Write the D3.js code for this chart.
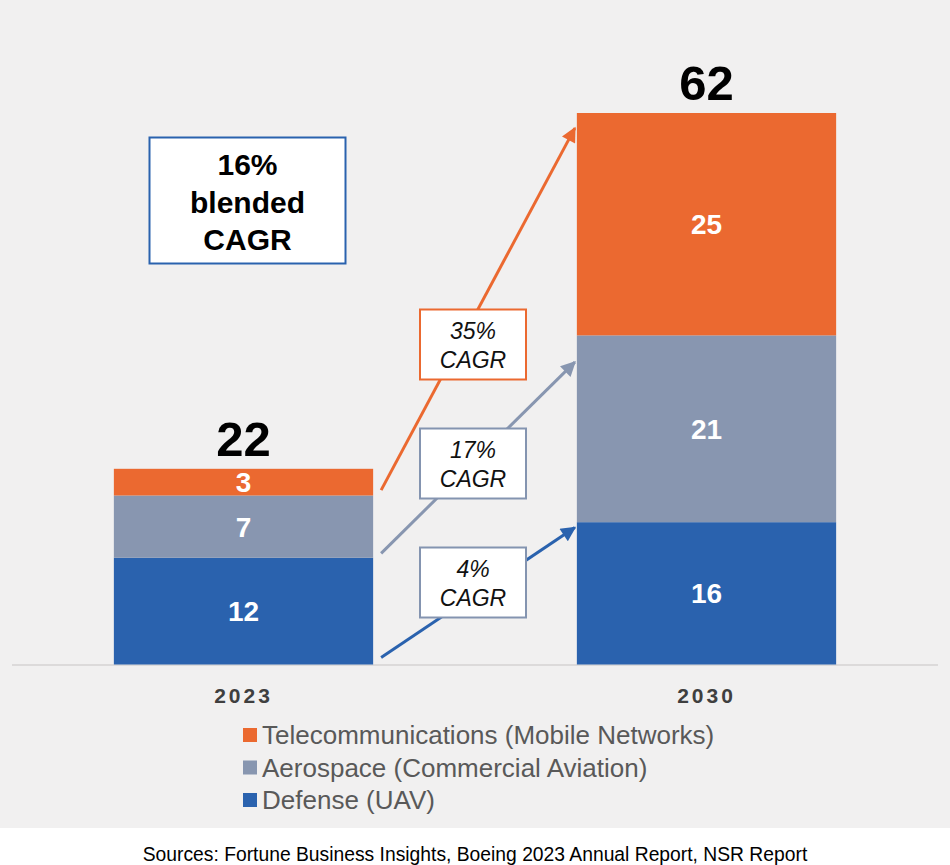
<!DOCTYPE html>
<html>
<head>
<meta charset="utf-8">
<script src="https://cdn.jsdelivr.net/npm/d3@7"></script>
<style>
  html, body { margin: 0; padding: 0; background: #ffffff; }
  svg { display: block; }
  text { font-family: "Liberation Sans", Arial, Helvetica, sans-serif; }
</style>
</head>
<body>
<div id="chart"></div>
<script>
// ---- Data ----
const years = ["2023", "2030"];
const seriesNames = ["Defense (UAV)", "Aerospace (Commercial Aviation)", "Telecommunications (Mobile Networks)"];
const defense = [12, 16];
const aerospace = [7, 21];
const telecom = [3, 25];
const totals = [22, 62];
const seriesColors = ["#2a62ae", "#8896b0", "#eb6930"];
const legendOrder = [2, 1, 0];
const cagrLabels = ["4%", "17%", "35%"];
const cagrBoxColors = ["#8494b0", "#8494b0", "#eb6930"];
// arrow anchors (data units): start value on 2023 side, end value on 2030 side
const arrowStart = [0.8, 12.5, 19.6];
const arrowEnd = [15.4, 34.0, 60.3];
const blendedText = ["16%", "blended", "CAGR"];
const sourceText = "Sources: Fortune Business Insights, Boeing 2023 Annual Report, NSR Report";

// ---- Layout ----
const W = 950, H = 865;
const svg = d3.select("#chart").append("svg").attr("width", W).attr("height", H);

svg.append("rect").attr("x", 0).attr("y", 0).attr("width", W).attr("height", 828).attr("fill", "#f1f0f0");

const x = d3.scaleBand().domain(years).range([12, 938]).paddingInner(0.44).paddingOuter(0.22);
const y = d3.scaleLinear().domain([0, 62]).range([664.5, 113]);

const values = [defense, aerospace, telecom];
const stackData = years.map((yr, i) => {
  const o = { year: yr };
  seriesNames.forEach((s, k) => o[s] = values[k][i]);
  return o;
});
const stacked = d3.stack().keys(seriesNames)(stackData);

// baseline
svg.append("line").attr("x1", 12).attr("x2", 938).attr("y1", y(0) + 0.5).attr("y2", y(0) + 0.5)
  .attr("stroke", "#d4d3d3").attr("stroke-width", 1.5);

// bars
const layers = svg.selectAll("g.layer").data(stacked).join("g").attr("class", "layer")
  .attr("fill", (d, k) => seriesColors[k]);
layers.selectAll("rect").data(d => d).join("rect")
  .attr("x", d => x(d.data.year))
  .attr("width", x.bandwidth())
  .attr("y", d => y(d[1]))
  .attr("height", d => y(d[0]) - y(d[1]));

// segment labels
layers.selectAll("text").data(d => d).join("text")
  .attr("x", d => x(d.data.year) + x.bandwidth() / 2)
  .attr("y", d => (y(d[0]) + y(d[1])) / 2)
  .attr("dy", "0.36em")
  .attr("text-anchor", "middle")
  .attr("fill", "#ffffff")
  .attr("font-weight", "bold")
  .attr("font-size", 28)
  .text(d => d[1] - d[0]);

// totals
svg.selectAll("text.total").data(years).join("text").attr("class", "total")
  .attr("x", d => x(d) + x.bandwidth() / 2)
  .attr("y", (d, i) => y(totals[i]) - 13)
  .attr("text-anchor", "middle")
  .attr("font-weight", "bold")
  .attr("font-size", 49)
  .attr("fill", "#000")
  .text((d, i) => totals[i]);

// x axis labels
const xAxis = d3.axisBottom(x).tickSize(0).tickPadding(0);
const gx = svg.append("g").attr("transform", `translate(0,${y(0) + 38})`).call(xAxis);
gx.select(".domain").remove();
gx.selectAll("text")
  .attr("font-family", "'Liberation Sans', Arial, sans-serif")
  .attr("font-size", 21).attr("font-weight", "bold").attr("fill", "#3f3f3f")
  .attr("letter-spacing", 3).attr("dy", "0");

// arrows
const defs = svg.append("defs");
seriesColors.forEach((c, k) => {
  defs.append("marker").attr("id", "ah" + k)
    .attr("viewBox", "0 0 10 10").attr("refX", 9).attr("refY", 5)
    .attr("markerWidth", 5.5).attr("markerHeight", 5).attr("markerUnits", "strokeWidth")
    .attr("orient", "auto")
    .append("path").attr("d", "M0,0 L10,5 L0,10 z").attr("fill", c);
});
const xStart = x("2023") + x.bandwidth() + 8;
const xEnd = x("2030") - 2;
svg.selectAll("line.arrow").data(arrowStart).join("line").attr("class", "arrow")
  .attr("x1", xStart).attr("y1", d => y(d))
  .attr("x2", xEnd).attr("y2", (d, k) => y(arrowEnd[k]))
  .attr("stroke", (d, k) => seriesColors[k])
  .attr("stroke-width", 3)
  .attr("marker-end", (d, k) => `url(#ah${k})`);

// CAGR boxes
const boxCenterY = [582.5, 463.5, 344.5];
const boxX = 420, boxW = 106, boxH = 70;
const cg = svg.selectAll("g.cagr").data(cagrLabels).join("g").attr("class", "cagr");
cg.append("rect")
  .attr("x", boxX).attr("y", (d, k) => boxCenterY[k] - boxH / 2)
  .attr("width", boxW).attr("height", boxH)
  .attr("fill", "#ffffff").attr("stroke", (d, k) => cagrBoxColors[k]).attr("stroke-width", 2);
cg.append("text")
  .attr("x", boxX + boxW / 2).attr("y", (d, k) => boxCenterY[k] - 6)
  .attr("text-anchor", "middle").attr("font-style", "italic").attr("font-size", 23).attr("fill", "#111")
  .text(d => d);
cg.append("text")
  .attr("x", boxX + boxW / 2).attr("y", (d, k) => boxCenterY[k] + 23)
  .attr("text-anchor", "middle").attr("font-style", "italic").attr("font-size", 23).attr("fill", "#111")
  .text("CAGR");

// blended box
svg.append("rect").attr("x", 149.5).attr("y", 137.5).attr("width", 196).attr("height", 126)
  .attr("fill", "#ffffff").attr("stroke", "#2a62ae").attr("stroke-width", 2);
svg.selectAll("text.blend").data(blendedText).join("text").attr("class", "blend")
  .attr("x", 247.5).attr("y", (d, i) => 175 + i * 37.5)
  .attr("text-anchor", "middle").attr("font-weight", "bold").attr("font-size", 30).attr("fill", "#000")
  .text(d => d);

// legend
const lg = svg.selectAll("g.legend").data(legendOrder).join("g").attr("class", "legend")
  .attr("transform", (d, i) => `translate(243,${735 + i * 32.5})`);
lg.append("rect").attr("x", 0).attr("y", -7).attr("width", 14).attr("height", 14)
  .attr("fill", d => seriesColors[d]);
lg.append("text").attr("x", 19).attr("y", 0).attr("dy", "0.36em")
  .attr("font-size", 26).attr("fill", "#595959")
  .text(d => seriesNames[d]);

// sources
svg.append("text").attr("x", 475).attr("y", 861).attr("text-anchor", "middle")
  .attr("font-size", 19.3).attr("fill", "#000")
  .text(sourceText);
</script>
</body>
</html>
